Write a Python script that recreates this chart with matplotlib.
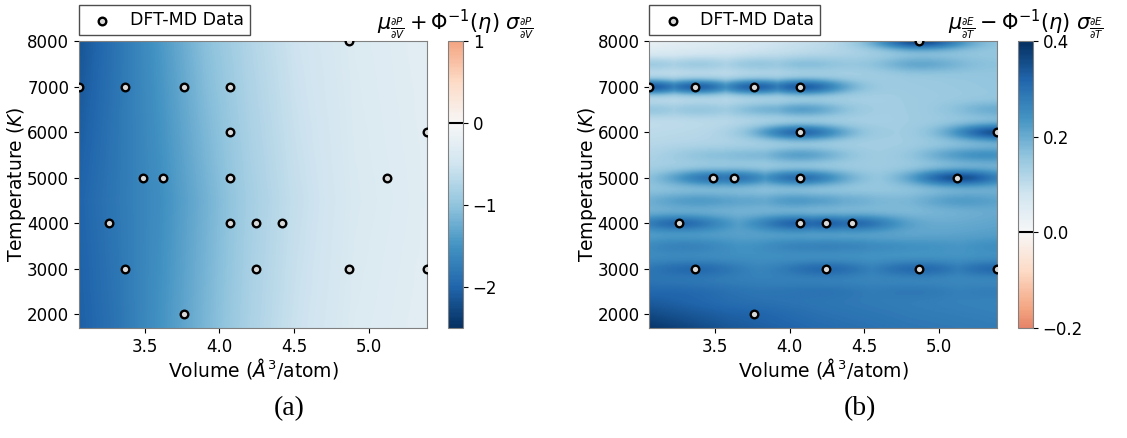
import numpy as np
import matplotlib
matplotlib.use("Agg")
import matplotlib.pyplot as plt
from matplotlib.colors import Normalize

# DFT-MD sample points (volume in A^3/atom, temperature in K)
volume = np.array([3.06, 3.37, 3.76, 4.07, 4.865, 4.07, 5.39, 3.49, 3.625, 4.07, 5.12,
                   3.26, 4.07, 4.245, 4.42, 3.37, 4.245, 4.865, 5.39, 3.76])
temperature = np.array([7000, 7000, 7000, 7000, 8000, 6000, 6000, 5000, 5000, 5000, 5000,
                        4000, 4000, 4000, 4000, 3000, 3000, 3000, 3000, 2000])

# dE/dT bound at each sample point
dEdT_at_data = np.array([0.33, 0.32, 0.32, 0.33, 0.36, 0.31, 0.35, 0.29, 0.29, 0.30, 0.35,
                         0.31, 0.32, 0.32, 0.31, 0.31, 0.31, 0.31, 0.31, 0.32])

# dP/dV bound on a coarse (T, V) grid
dPdV_vol = [3.06, 3.3, 3.6, 3.9, 4.2, 4.5, 4.9, 5.39]
dPdV_temp = [1700, 4500, 8000]
dPdV_grid = [[-2.05, -1.85, -1.50, -1.15, -0.80, -0.55, -0.35, -0.27],
             [-2.00, -1.80, -1.55, -1.20, -0.85, -0.60, -0.38, -0.29],
             [-2.15, -1.85, -1.45, -1.05, -0.75, -0.52, -0.35, -0.27]]

# dE/dT bound away from the samples, coarse (T, V) grid
dEdT_vol = [3.06, 3.6, 4.2, 4.8, 5.39]
dEdT_temp = [1700, 2500, 3500, 4500, 5500, 6500, 7500, 8000]
dEdT_grid = [[0.39, 0.34, 0.31, 0.29, 0.28],
             [0.31, 0.29, 0.28, 0.27, 0.26],
             [0.23, 0.23, 0.22, 0.22, 0.23],
             [0.17, 0.17, 0.15, 0.16, 0.19],
             [0.12, 0.13, 0.13, 0.14, 0.17],
             [0.09, 0.10, 0.12, 0.14, 0.15],
             [0.08, 0.09, 0.12, 0.15, 0.16],
             [0.03, 0.06, 0.10, 0.14, 0.15]]

vlim = (3.06, 5.39)
tlim = (1700, 8000)
vv = np.linspace(*vlim, 400)
tt = np.linspace(*tlim, 400)


def grid_surface(v_nodes, t_nodes, z, v, t):
    z = np.asarray(z, dtype=float)
    rows = np.array([np.interp(v, v_nodes, r) for r in z])
    return np.array([np.interp(t, t_nodes, rows[:, j]) for j in range(len(v))]).T


dPdV = grid_surface(dPdV_vol, dPdV_temp, dPdV_grid, vv, tt)

# GP-like surface: ridges along each temperature row, with weak side lobes
dEdT = grid_surface(dEdT_vol, dEdT_temp, dEdT_grid, vv, tt)
bg_pts = np.array([grid_surface(dEdT_vol, dEdT_temp, dEdT_grid, np.array([v]), np.array([t]))[0, 0]
                   for v, t in zip(volume, temperature)])
lv, lt = 0.22, 125.0
for t_row in np.unique(temperature):
    sel = temperature == t_row
    amp = dEdT_at_data[sel] - bg_pts[sel]
    prof = np.max(amp[:, None] * np.exp(-(vv[None, :] - volume[sel][:, None]) ** 2 / (2 * lv ** 2)), axis=0)
    d = tt - t_row
    tk = np.exp(-d ** 2 / (2 * lt ** 2)) + 0.25 * (np.exp(-(d - 500) ** 2 / (2 * lt ** 2)) +
                                                 np.exp(-(d + 500) ** 2 / (2 * lt ** 2)))
    dEdT += tk[:, None] * prof[None, :]

fig = plt.figure(figsize=(11.27, 4.38), dpi=100)

panels = [
    dict(field=dPdV, cmap="RdBu_r", norm=Normalize(-2.5, 2.5), cb_range=(-2.5, 1),
         ticks=[-2, -1, 0, 1],
         title=r"$\mu_{\frac{\partial P}{\partial V}} + \Phi^{-1}(\eta)\ \sigma_{\frac{\partial P}{\partial V}}$",
         ax_rect=[0.070, 0.251, 0.309, 0.655], cb_rect=[0.3975, 0.251, 0.0133, 0.655],
         tag="(a)", tag_x=0.257),
    dict(field=dEdT, cmap="RdBu", norm=Normalize(-0.4, 0.4), cb_range=(-0.2, 0.4),
         ticks=[-0.2, 0.0, 0.2, 0.4],
         title=r"$\mu_{\frac{\partial E}{\partial T}} - \Phi^{-1}(\eta)\ \sigma_{\frac{\partial E}{\partial T}}$",
         ax_rect=[0.576, 0.251, 0.309, 0.655], cb_rect=[0.9033, 0.251, 0.0133, 0.655],
         tag="(b)", tag_x=0.763),
]

for p in panels:
    ax = fig.add_axes(p["ax_rect"])
    im = ax.imshow(p["field"], extent=[*vlim, *tlim], origin="lower", aspect="auto",
                   cmap=p["cmap"], norm=p["norm"], interpolation="bilinear")
    ax.scatter(volume, temperature, s=30, facecolor="#d9d9d9", edgecolor="k",
               linewidth=1.7, zorder=3, label="DFT-MD Data")
    ax.set_xlim(*vlim)
    ax.set_ylim(*tlim)
    ax.set_xticks([3.5, 4.0, 4.5, 5.0])
    ax.set_yticks(range(2000, 8001, 1000))
    ax.tick_params(labelsize=12)
    ax.set_xlabel(r"Volume ($Å^3$/atom)", fontsize=13.5, labelpad=0)
    ax.set_ylabel(r"Temperature ($K$)", fontsize=13.5, labelpad=-1)
    for s in ax.spines.values():
        s.set_color("0.5")
    leg = ax.legend(loc="lower left", bbox_to_anchor=(0.0, 1.02), borderaxespad=0,
                    fontsize=12.5, fancybox=False, edgecolor="0.3", framealpha=1,
                    borderpad=0.35, handletextpad=0.6)
    leg.get_frame().set_linewidth(1.0)

    cax = fig.add_axes(p["cb_rect"])
    cb = fig.colorbar(im, cax=cax, boundaries=np.linspace(*p["cb_range"], 256),
                      ticks=p["ticks"])
    cb.outline.set_edgecolor("0.5")
    cax.tick_params(labelsize=12)
    cax.axhline(0, color="k", lw=1.5)
    cax.set_title(p["title"], fontsize=15, pad=4)

    fig.text(p["tag_x"], 0.068, p["tag"], ha="center", va="center",
             fontsize=20, family="Liberation Serif")

fig.savefig("out.png", dpi=100)
